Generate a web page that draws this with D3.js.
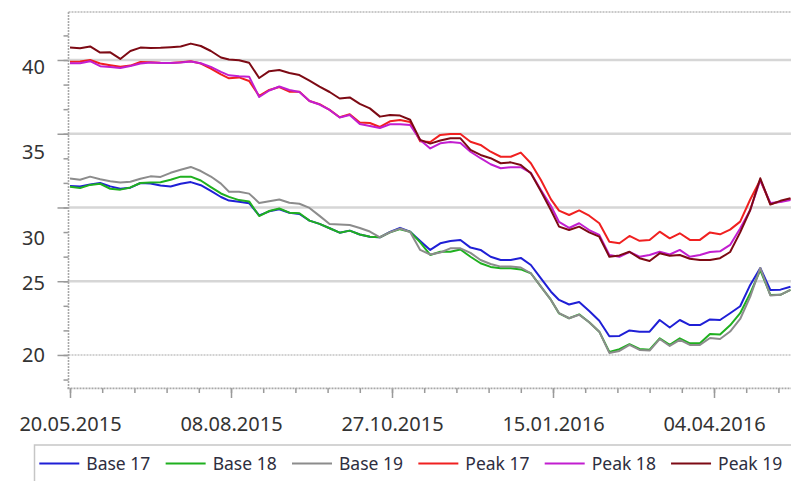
<!DOCTYPE html>
<html><head><meta charset="utf-8">
<script src="https://cdn.jsdelivr.net/npm/d3@7"></script>
<style>body{margin:0;background:#fff;} svg{display:block;}</style>
</head><body>
<svg id="chart" width="791" height="481"></svg>
<script>
const dates = ["2015-05-20","2015-05-25","2015-05-30","2015-06-04","2015-06-09","2015-06-14","2015-06-19","2015-06-24","2015-06-29","2015-07-04",
"2015-07-09","2015-07-14","2015-07-19","2015-07-24","2015-07-29","2015-08-03","2015-08-07","2015-08-12","2015-08-17","2015-08-22",
"2015-08-27","2015-09-01","2015-09-06","2015-09-11","2015-09-16","2015-09-21","2015-09-26","2015-10-01","2015-10-06","2015-10-11",
"2015-10-16","2015-10-21","2015-10-26","2015-10-31","2015-11-05","2015-11-10","2015-11-15","2015-11-20","2015-11-25","2015-11-30",
"2015-12-05","2015-12-10","2015-12-15","2015-12-20","2015-12-25","2015-12-30","2016-01-04","2016-01-09","2016-01-14","2016-01-18",
"2016-01-23","2016-01-28","2016-02-02","2016-02-07","2016-02-12","2016-02-17","2016-02-22","2016-02-27","2016-03-03","2016-03-08",
"2016-03-13","2016-03-18","2016-03-23","2016-03-28","2016-04-02","2016-04-07","2016-04-12","2016-04-17","2016-04-22","2016-04-27",
"2016-05-02","2016-05-07","2016-05-12"];

const base17 = [31.46,31.42,31.56,31.66,31.43,31.27,31.34,31.66,31.63,31.49,
31.42,31.61,31.72,31.51,31.12,30.71,30.47,30.39,30.29,29.46,
29.74,29.88,29.64,29.56,29.11,28.89,28.59,28.29,28.43,28.17,
28.02,27.98,28.34,28.62,28.36,27.73,27.12,27.57,27.73,27.80,
27.28,27.12,26.66,26.44,26.44,26.58,26.10,25.19,24.29,23.73,
23.42,23.59,22.98,22.32,21.27,21.29,21.66,21.58,21.58,22.37,
21.86,22.37,22.03,22.03,22.41,22.37,22.83,23.30,24.75,25.90,
24.41,24.43,24.63];
const base18 = [31.40,31.32,31.53,31.61,31.27,31.21,31.36,31.66,31.69,31.71,
31.88,32.09,32.09,31.83,31.38,30.95,30.72,30.50,30.41,29.42,
29.76,29.93,29.65,29.61,29.11,28.89,28.59,28.29,28.43,28.17,
28.02,27.98,28.31,28.53,28.36,27.63,26.78,27.00,27.00,27.15,
26.66,26.22,25.97,25.88,25.88,25.80,25.54,24.63,23.73,22.82,
22.49,22.75,22.22,21.58,20.20,20.39,20.73,20.41,20.36,21.13,
20.68,21.13,20.79,20.79,21.42,21.39,22.01,22.83,24.18,25.76,
24.07,24.08,24.41];
const base19 = [31.97,31.88,32.09,31.91,31.78,31.69,31.74,31.95,32.11,32.07,
32.35,32.56,32.75,32.47,32.10,31.62,31.07,31.07,30.94,30.31,
30.42,30.54,30.32,30.25,29.97,29.43,28.88,28.85,28.81,28.61,
28.37,27.98,28.32,28.57,28.34,27.12,26.81,26.95,27.23,27.23,
26.92,26.44,26.17,25.99,25.99,25.93,25.54,24.63,23.73,22.83,
22.49,22.73,22.22,21.58,20.14,20.27,20.68,20.34,20.30,21.08,
20.61,21.02,20.68,20.68,21.15,21.08,21.59,22.44,23.95,25.90,
24.03,24.08,24.41];
const peak17 = [39.88,39.90,40.00,39.76,39.65,39.54,39.62,39.86,39.85,39.81,
39.80,39.85,39.91,39.76,39.41,39.02,38.76,38.82,38.58,37.56,
37.97,38.17,37.85,37.85,37.22,37.00,36.62,36.12,36.32,35.76,
35.73,35.46,35.84,35.93,35.80,34.49,34.44,34.92,34.98,34.98,
34.46,34.24,33.78,33.44,33.44,33.72,33.00,31.86,30.55,29.79,
29.49,29.80,29.44,28.93,27.68,27.57,28.07,27.74,27.80,28.36,
27.91,28.25,27.80,27.80,28.31,28.18,28.50,29.04,30.54,31.86,
30.24,30.41,30.58];
const peak18 = [39.78,39.78,39.92,39.58,39.53,39.46,39.59,39.76,39.83,39.80,
39.80,39.83,39.90,39.78,39.53,39.19,38.96,38.90,38.87,37.49,
37.93,38.20,37.97,37.83,37.22,36.98,36.61,36.10,36.27,35.66,
35.53,35.39,35.64,35.64,35.59,34.58,34.00,34.35,34.44,34.37,
33.78,33.34,32.93,32.66,32.73,32.73,32.34,31.19,30.10,29.02,
28.61,28.93,28.47,28.14,26.78,26.66,26.98,26.66,26.78,27.00,
26.81,27.12,26.66,26.78,26.98,27.03,27.46,28.58,29.83,31.86,
30.31,30.37,30.51];
const peak19 = [40.85,40.80,40.92,40.50,40.52,40.07,40.61,40.84,40.82,40.83,
40.87,40.92,41.11,40.95,40.61,40.17,40.03,39.98,39.81,38.78,
39.24,39.32,39.12,38.98,38.60,38.20,37.83,37.39,37.46,37.02,
36.72,36.16,36.27,36.23,35.95,34.58,34.33,34.54,34.69,34.69,
33.90,33.56,33.34,33.00,33.06,32.88,32.32,31.10,29.81,28.70,
28.47,28.70,28.31,28.02,26.66,26.75,27.00,26.56,26.37,26.89,
26.73,26.78,26.52,26.44,26.44,26.56,26.98,28.31,29.83,31.98,
30.20,30.45,30.62];

const seriesNames = ["Base 17","Base 18","Base 19","Peak 17","Peak 18","Peak 19"];
const seriesValues = [base17, base18, base19, peak17, peak18, peak19];
const seriesColors = ["#1f1fd6","#1fb01f","#8c8c8c","#f02020","#c21ed0","#7d0a14"];

const xTickLabels = ["20.05.2015","08.08.2015","27.10.2015","15.01.2016","04.04.2016"];
const yGridValues = [40,35,30,25,20];
const yTickLabels = ["40","35","30","25","20"];
const yTickLabelValues = [39.55,33.78,27.91,24.9,19.98];

const parseISO = d3.utcParse("%Y-%m-%d");
const parseLbl = d3.utcParse("%d.%m.%Y");
const fmtLbl = d3.utcFormat("%d.%m.%Y");
const dateObjs = dates.map(parseISO);

const svg = d3.select("#chart");
const x0 = 70, pxPerDay = 2.0125;
const startDate = parseISO("2015-05-20");
const endDate = parseISO("2016-05-20");
const x = d3.scaleUtc().domain([startDate, endDate]).range([x0, x0 + 366 * pxPerDay]);
const y = d3.scaleLinear().domain([17.76, 43.254]).range([388, 12]);
const axisX = 68.5, rightX = 800;

// gridlines
svg.append("g").selectAll("line").data(yGridValues).join("line")
  .attr("x1", axisX).attr("x2", rightX)
  .attr("y1", d => y(d)).attr("y2", d => y(d))
  .attr("stroke", d => d === 20 ? "#c4c4c4" : "#d6d6d6")
  .attr("stroke-width", d => d === 20 ? 1.5 : 2.6)
  .attr("stroke-dasharray", d => d === 20 ? "2,1" : null);

// top border
svg.append("line").attr("x1", axisX).attr("x2", rightX).attr("y1", 12).attr("y2", 12)
  .attr("stroke", "#b8b8b8").attr("stroke-width", 1.5).attr("stroke-dasharray", "2,1");

// y axis: minor ticks
const yMinor = d3.range(-1, 16).map(k => 40 - k * 5 / 3).filter(v => v > 17.8 && v < 43.2);
svg.append("g").attr("transform", `translate(${axisX},0)`)
  .call(d3.axisLeft(y).tickValues(yMinor).tickSize(5).tickFormat(""))
  .call(g => g.select(".domain").remove())
  .call(g => g.selectAll("line").attr("stroke", "#9a9a9a").attr("stroke-width", 1.5));
// y axis: major ticks
svg.append("g").attr("transform", `translate(${axisX},0)`)
  .call(d3.axisLeft(y).tickValues(yGridValues).tickSize(11).tickFormat(""))
  .call(g => g.select(".domain").remove())
  .call(g => g.selectAll("line").attr("stroke", "#9a9a9a").attr("stroke-width", 1.5));
// y labels
svg.append("g").attr("transform", `translate(${axisX},0)`)
  .call(d3.axisLeft(y).tickValues(yTickLabelValues).tickSize(0).tickPadding(23.5)
        .tickFormat((d, i) => yTickLabels[i]))
  .call(g => g.select(".domain").remove())
  .call(g => g.selectAll("text").attr("font-family", "'Noto Sans', sans-serif")
        .attr("font-size", 20).attr("fill", "#333"));
// y axis line
svg.append("line").attr("x1", axisX).attr("x2", axisX).attr("y1", 12).attr("y2", 389)
  .attr("stroke", "#a8a8a8").attr("stroke-width", 1.6).attr("stroke-dasharray", "2,1");

// x axis minor ticks
const xMinor = d3.range(0, 23).map(k => d3.utcDay.offset(startDate, k * 16));
svg.append("g").attr("transform", "translate(0,388)")
  .call(d3.axisBottom(x).tickValues(xMinor).tickSize(5).tickFormat(""))
  .call(g => g.select(".domain").remove())
  .call(g => g.selectAll("line").attr("stroke", "#9a9a9a").attr("stroke-width", 1.5));
// x axis major ticks + labels
const xMajor = xTickLabels.map(parseLbl);
svg.append("g").attr("transform", "translate(0,388)")
  .call(d3.axisBottom(x).tickValues(xMajor).tickSize(10).tickPadding(19).tickFormat(fmtLbl))
  .call(g => g.select(".domain").remove())
  .call(g => g.selectAll("line").attr("stroke", "#9a9a9a").attr("stroke-width", 1.5))
  .call(g => g.selectAll("text").attr("font-family", "'Noto Sans', sans-serif")
        .attr("font-size", 20).attr("fill", "#333"));
svg.append("line").attr("x1", axisX - 1).attr("x2", rightX).attr("y1", 388.3).attr("y2", 388.3)
  .attr("stroke", "#a8a8a8").attr("stroke-width", 1.8).attr("stroke-dasharray", "2,1");

// series
const line = d3.line().x((d, i) => x(dateObjs[i])).y(d => y(d));
const plot = svg.append("g");
seriesValues.forEach((vals, si) => {
  plot.append("path").datum(vals).attr("d", line)
    .attr("fill", "none").attr("stroke", seriesColors[si])
    .attr("stroke-width", 2).attr("stroke-linejoin", "round");
});

// legend
svg.append("rect").attr("x", 34.5).attr("y", 445).attr("width", 800).attr("height", 60)
  .attr("fill", "#fff").attr("stroke", "#c6c6c6").attr("stroke-width", 1.5);
const lg = svg.append("g").selectAll("g").data(seriesNames).join("g")
  .attr("transform", (d, i) => `translate(${39.3 + i * 126.35},463.5)`);
lg.append("line").attr("x1", 0).attr("x2", 40).attr("y1", 0).attr("y2", 0)
  .attr("stroke", (d, i) => seriesColors[i]).attr("stroke-width", 2);
lg.append("text").attr("x", 47).attr("y", 0).attr("dy", "0.35em")
  .attr("font-family", "'Noto Sans', sans-serif").attr("font-size", 17.5)
  .attr("fill", "#2e2e40").text(d => d);
</script>
</body></html>
